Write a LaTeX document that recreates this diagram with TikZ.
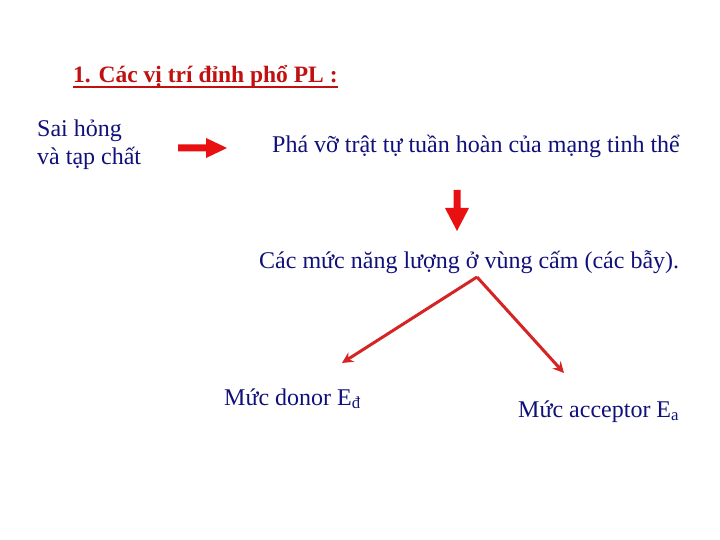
\documentclass[tikz,border=0pt]{standalone}
\usepackage{fontspec}
\setmainfont{Liberation Serif}
\usetikzlibrary{arrows.meta}
\definecolor{txtblue}{HTML}{10107A}
\definecolor{ttlred}{HTML}{C01010}
\definecolor{arrred}{HTML}{E81010}
\definecolor{lnred}{HTML}{D42424}
\begin{document}
\begin{tikzpicture}[x=1pt,y=-1pt,
  txt/.style={anchor=base west,inner sep=0pt,text=txtblue,font=\fontsize{24}{28}\selectfont},
  diag/.style={draw=lnred,line width=3pt,-{Stealth[length=11pt,width=11pt]}}]
\useasboundingbox (0,0) rectangle (720,540);
\node[anchor=base west,inner sep=0pt,text=ttlred,font=\fontsize{23.5}{27}\selectfont\bfseries] (title) at (73,83) {1. Các vị trí đỉnh phổ PL :};
\draw[ttlred,line width=1.8pt] ([yshift=-4pt]title.base west) -- ([yshift=-4pt]title.base east);
\node[txt] (sai) at (37,137) {Sai hỏng};
\node[txt] (va) at (37,165) {và tạp chất};
\node[txt] (pha) at (272,153) {Phá vỡ trật tự tuần hoàn của mạng tinh thể};
\node[txt] (cac) at (259,268) {Các mức năng lượng ở vùng cấm (các bẫy).};
\node[txt] (donor) at (224,405) {Mức donor E\textsubscript{đ}};
\node[txt] (acc) at (518,417) {Mức acceptor E\textsubscript{a}};
\coordinate (apex) at (477,277);
\coordinate (dl) at (342,363);
\coordinate (dr) at (564,373);
% right arrow
\fill[arrred] (178,144.5) -- (206,144.5) -- (206,138) -- (227,148) -- (206,158) -- (206,151.5) -- (178,151.5) -- cycle;
% down arrow
\fill[arrred] (453.5,190) -- (460.5,190) -- (460.5,208) -- (469,208) -- (457,231) -- (445,208) -- (453.5,208) -- cycle;
\draw[diag] (apex) -- (dl);
\draw[diag] (apex) -- (dr);
\end{tikzpicture}
\end{document}
